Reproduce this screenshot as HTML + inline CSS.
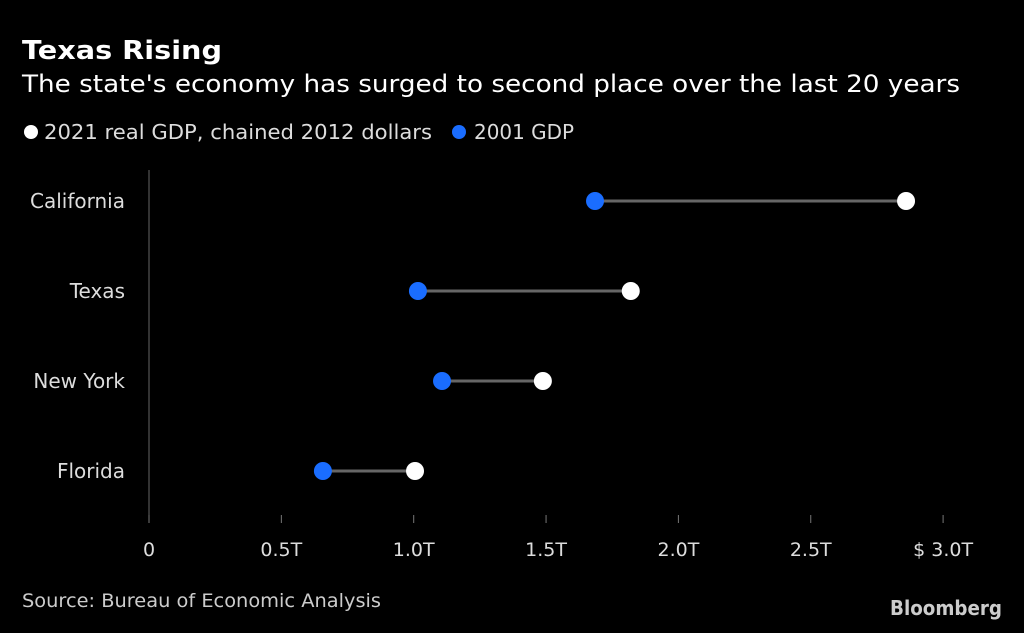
<!DOCTYPE html>
<html><head><meta charset="utf-8"><style>
body{margin:0;background:#000;width:1024px;height:629px;overflow:hidden;font-family:"DejaVu Sans",sans-serif;color:#fff}
svg text{font-family:"DejaVu Sans","Liberation Sans",sans-serif}
</style></head><body>
<svg width="1024" height="629">
<text x="22" y="59" font-size="26" font-weight="bold" fill="#fff" textLength="200" lengthAdjust="spacingAndGlyphs">Texas Rising</text>
<text x="22" y="92" font-size="24" fill="#fff" textLength="938" lengthAdjust="spacingAndGlyphs">The state's economy has surged to second place over the last 20 years</text>
<g>
<circle cx="31" cy="132" r="7" fill="#fff"/>
<text x="44" y="139" font-size="20" fill="#ddd" textLength="388" lengthAdjust="spacingAndGlyphs">2021 real GDP, chained 2012 dollars</text>
<circle cx="459" cy="132" r="7" fill="#1a6dff"/>
<text x="474" y="139" font-size="20" fill="#ddd" textLength="100" lengthAdjust="spacingAndGlyphs">2001 GDP</text>
</g>
<line x1="149" y1="170" x2="149" y2="522" stroke="#666" stroke-width="1"/>
<g id="ticks"></g>
<g id="rows"></g>
<text x="22" y="607" font-size="19" fill="#ccc" textLength="359" lengthAdjust="spacingAndGlyphs">Source: Bureau of Economic Analysis</text>
<text x="890" y="615" font-size="20" font-weight="bold" fill="#ccc" textLength="112" lengthAdjust="spacingAndGlyphs">Bloomberg</text>
</svg>
<script>
const states=["California","Texas","New York","Florida"];
const gdp2001=[1.685,1.016,1.107,0.657];
const gdp2021=[2.86,1.82,1.488,1.005];
const tickValues=[0,0.5,1.0,1.5,2.0,2.5,3.0];
const tickLabels=["0","0.5T","1.0T","1.5T","2.0T","2.5T","$ 3.0T"];
const NS="http://www.w3.org/2000/svg";
const x=v=>149+v*264.7;
const y=i=>201+i*90;
function mk(tag,a,p){const e=document.createElementNS(NS,tag);for(const k in a)e.setAttribute(k,a[k]);p.appendChild(e);return e;}
const tg=document.getElementById('ticks');
tickValues.forEach((v,i)=>{
 const l=mk('line',{x1:x(v),x2:x(v),y1:515,y2:523,stroke:'#777'},tg);
 
 
 const t=mk('text',{x:x(v),y:556,'font-size':19,fill:'#ddd','text-anchor':'middle'},tg);
 t.textContent=tickLabels[i];
 
 
});
const rg=document.getElementById('rows');
states.forEach((s,i)=>{
 const t=mk('text',{x:125,y:y(i)+7,'font-size':20,fill:'#ddd','text-anchor':'end'},rg);
 t.textContent=s;
 
 
 const l=mk('line',{x1:x(gdp2001[i]),x2:x(gdp2021[i]),y1:y(i),y2:y(i),stroke:'#666','stroke-width':3},rg);
 
 
 const b=mk('circle',{cx:x(gdp2001[i]),cy:y(i),r:9,fill:'#1a6dff'},rg);
 
 
 const w=mk('circle',{cx:x(gdp2021[i]),cy:y(i),r:9,fill:'#fff'},rg);
 
 
});
</script>
</body></html>
